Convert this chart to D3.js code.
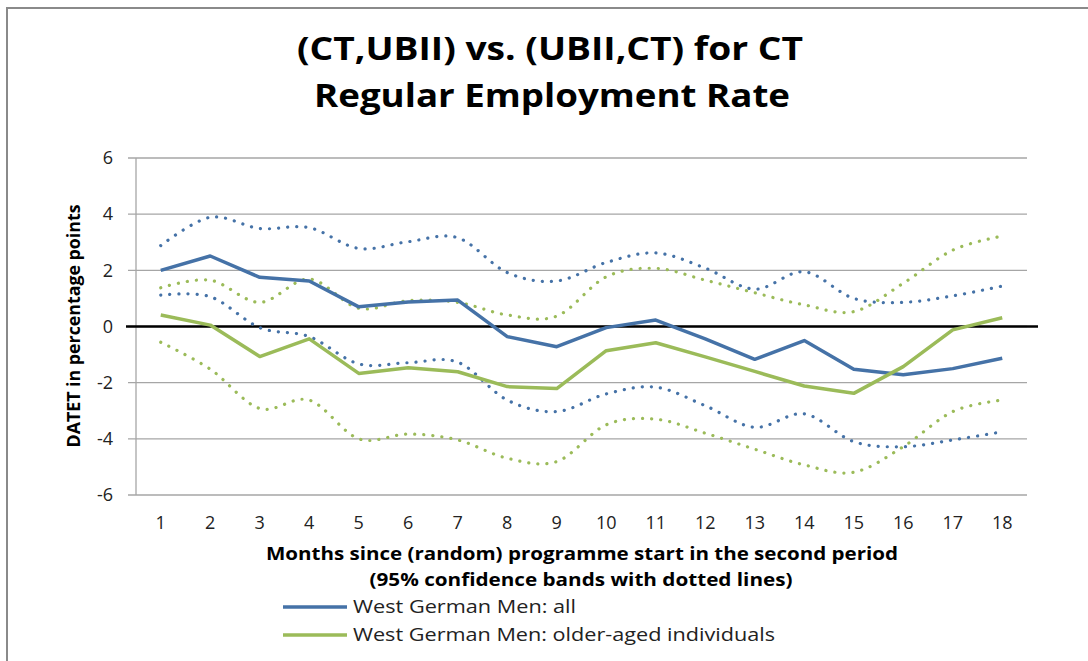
<!DOCTYPE html>
<html><head><meta charset="utf-8">
<script src="https://cdn.jsdelivr.net/npm/d3@7/dist/d3.min.js"></script>
<style>
html,body{margin:0;padding:0;background:#fff;}
svg{display:block;}
text{font-family:"Open Sans","Liberation Sans",sans-serif;}
</style></head>
<body>
<svg id="chart" width="1088" height="661"></svg>
<script>
const months = [1,2,3,4,5,6,7,8,9,10,11,12,13,14,15,16,17,18];
const yTicks = [-6,-4,-2,0,2,4,6];
const allMain  = [2.0,2.51,1.75,1.62,0.70,0.87,0.94,-0.36,-0.72,-0.04,0.23,-0.44,-1.17,-0.50,-1.52,-1.72,-1.50,-1.13];
const allUpper = [2.88,3.89,3.49,3.52,2.78,3.02,3.16,1.92,1.62,2.28,2.62,2.08,1.33,1.95,1.00,0.86,1.09,1.44];
const allLower = [1.12,1.06,-0.04,-0.36,-1.33,-1.29,-1.27,-2.62,-3.03,-2.40,-2.16,-2.82,-3.59,-3.11,-4.10,-4.28,-4.04,-3.75];
const oldMain  = [0.41,0.05,-1.07,-0.44,-1.67,-1.47,-1.61,-2.14,-2.21,-0.86,-0.58,-1.08,-1.60,-2.12,-2.38,-1.43,-0.12,0.31];
const oldUpper = [1.38,1.65,0.86,1.69,0.65,0.92,0.86,0.41,0.37,1.77,2.07,1.65,1.20,0.77,0.53,1.54,2.72,3.22];
const oldLower = [-0.56,-1.52,-2.92,-2.62,-4.00,-3.83,-4.04,-4.69,-4.81,-3.50,-3.30,-3.80,-4.37,-4.93,-5.19,-4.28,-3.03,-2.62];
const titleLines = ["(CT,UBII) vs. (UBII,CT) for CT","Regular Employment Rate"];
const yLabel = "DATET in percentage points";
const xLabelLines = ["Months since (random) programme start in the second period","(95% confidence bands with dotted lines)"];
const legendLabels = ["West German Men: all","West German Men: older-aged individuals"];
const BLUE = "#4572a7", GREEN = "#9bbb59";

const svg = d3.select("#chart");
const L = 136, R = 1027, T = 158, B = 495;

// outer border
svg.append("path").attr("d","M7,661 V8 H1088").attr("fill","none").attr("stroke","#8a8a8a").attr("stroke-width",2);

const x = d3.scaleBand().domain(months).range([L,R]);
const y = d3.scaleLinear().domain([-6,6]).range([B,T]);
const cx = d => x(d) + x.bandwidth()/2;

// gridlines
svg.append("g").selectAll("line").data(yTicks).join("line")
  .attr("x1",L-8).attr("x2",R).attr("y1",d=>y(d)).attr("y2",d=>y(d))
  .attr("stroke","#a6a6a6").attr("stroke-width",1.3);
// y axis line
svg.append("line").attr("x1",L).attr("x2",L).attr("y1",T).attr("y2",B).attr("stroke","#a6a6a6").attr("stroke-width",1.3);

// y tick labels
svg.append("g").selectAll("text").data(yTicks).join("text")
  .attr("x",113).attr("y",d=>y(d)).attr("dy","0.35em").attr("text-anchor","end")
  .attr("font-size",18).attr("fill","#222").text(d=>d);
// x tick labels
svg.append("g").selectAll("text").data(months).join("text")
  .attr("x",d=>cx(d)).attr("y",523).attr("dy","0.35em").attr("text-anchor","middle")
  .attr("font-size",18).attr("fill","#222").text(d=>d);

// zero line
svg.append("line").attr("x1",126).attr("x2",1038).attr("y1",y(0)).attr("y2",y(0)).attr("stroke","#000").attr("stroke-width",2.5);

const smooth = d3.line().x((d,i)=>cx(months[i])).y(d=>y(d)).curve(d3.curveCatmullRom.alpha(0));
const straight = d3.line().x((d,i)=>cx(months[i])).y(d=>y(d));

function dotted(data,color){
  svg.append("path").attr("d",smooth(data)).attr("fill","none").attr("stroke",color)
    .attr("stroke-width",3.2).attr("stroke-linecap","round").attr("stroke-dasharray","0.1 9");
}
dotted(allUpper,BLUE); dotted(allLower,BLUE);
dotted(oldUpper,GREEN); dotted(oldLower,GREEN);
svg.append("path").attr("d",straight(allMain)).attr("fill","none").attr("stroke",BLUE).attr("stroke-width",3.5).attr("stroke-linejoin","round");
svg.append("path").attr("d",straight(oldMain)).attr("fill","none").attr("stroke",GREEN).attr("stroke-width",3.5).attr("stroke-linejoin","round");

// title
const title = svg.append("g");
title.append("text").attr("x",550).attr("y",60).attr("text-anchor","middle").attr("font-size",32).attr("font-weight","bold")
  .attr("textLength",506).attr("lengthAdjust","spacingAndGlyphs").text(titleLines[0]);
title.append("text").attr("x",552).attr("y",107).attr("text-anchor","middle").attr("font-size",32).attr("font-weight","bold")
  .attr("textLength",476).attr("lengthAdjust","spacingAndGlyphs").text(titleLines[1]);

// y axis title
svg.append("text").attr("transform","translate(80,326) rotate(-90)").attr("text-anchor","middle")
  .attr("font-size",18).attr("font-weight","bold").attr("textLength",243).attr("lengthAdjust","spacingAndGlyphs").text(yLabel);

// x axis title
svg.append("text").attr("x",582).attr("y",560).attr("text-anchor","middle").attr("font-size",18).attr("font-weight","bold")
  .attr("textLength",632).attr("lengthAdjust","spacingAndGlyphs").text(xLabelLines[0]);
svg.append("text").attr("x",581).attr("y",586).attr("text-anchor","middle").attr("font-size",18).attr("font-weight","bold")
  .attr("textLength",423).attr("lengthAdjust","spacingAndGlyphs").text(xLabelLines[1]);

// legend
const legW = [223,422];
const leg = svg.append("g").selectAll("g").data(legendLabels).join("g")
  .attr("transform",(d,i)=>`translate(283,${607+i*28})`);
leg.append("line").attr("x1",0).attr("x2",64).attr("y1",0).attr("y2",0)
  .attr("stroke",(d,i)=>i===0?BLUE:GREEN).attr("stroke-width",3.5);
leg.append("text").attr("x",70).attr("y",0).attr("dy","0.35em").attr("font-size",18).attr("fill","#222")
  .attr("textLength",(d,i)=>legW[i]).attr("lengthAdjust","spacingAndGlyphs").text(d=>d);
</script>
</body></html>
